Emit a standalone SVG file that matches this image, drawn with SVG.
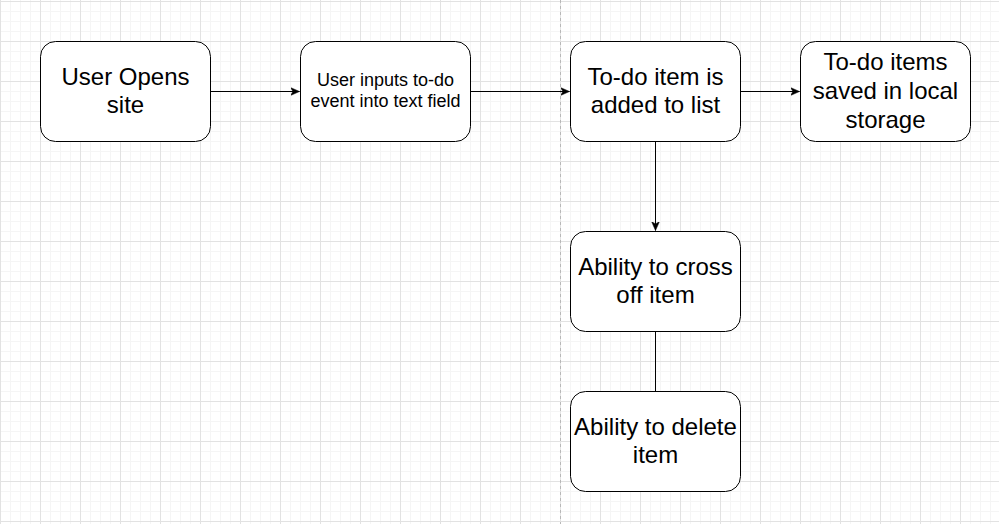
<svg xmlns="http://www.w3.org/2000/svg" width="999" height="524" viewBox="0 0 999 524">
<defs>
<style>
.node rect{fill:#ffffff;stroke:#000000;stroke-width:1}
.lbl{font-family:"Liberation Sans",Arial,Helvetica,sans-serif;font-size:24px;fill:#000000;text-anchor:middle}
.sm{font-size:18px}
.edge{stroke:#000000;stroke-width:1;fill:none}
</style>
<pattern id="grid" x="0" y="1" width="40" height="40" patternUnits="userSpaceOnUse">
<path d="M10.5 0V40M20.5 0V40M30.5 0V40M0 10.5H40M0 20.5H40M0 30.5H40" stroke="#f5f5f5" stroke-width="1" fill="none"/>
<path d="M0.5 0V40M0 0.5H40" stroke="#e2e2e2" stroke-width="1" fill="none"/>
</pattern>
<marker id="arr" markerWidth="10" markerHeight="10" refX="9" refY="5" orient="auto" markerUnits="userSpaceOnUse">
<path d="M0 1L9 5L0 9L2.4 5Z" fill="#000000" stroke="#000000" stroke-width="0.5"/>
</marker>
</defs>
<rect x="0" y="0" width="999" height="524" fill="#ffffff"/>
<rect x="0" y="0" width="999" height="524" fill="url(#grid)"/>
<line x1="560.5" y1="0" x2="560.5" y2="524" stroke="#b8b8b8" stroke-width="1" stroke-dasharray="3 3"/>
<g id="connectors">
<path class="edge" d="M210.5 91.5H299.5" marker-end="url(#arr)"/>
<path class="edge" d="M470.5 91.5H569.5" marker-end="url(#arr)"/>
<path class="edge" d="M740.5 91.5H799.5" marker-end="url(#arr)"/>
<path class="edge" d="M655.5 141.5V230.5" marker-end="url(#arr)"/>
<path class="edge" d="M655.5 331.5V391.5"/>
</g>
<g id="node-user-opens" class="node">
<rect x="40.5" y="41.5" width="170" height="100" rx="15" ry="15"/>
<text class="lbl" x="125.5" y="84.5">User Opens</text>
<text class="lbl" x="125.5" y="113">site</text>
</g>
<g id="node-user-inputs" class="node">
<rect x="300.5" y="41.5" width="170" height="100" rx="15" ry="15"/>
<text class="lbl sm" x="385.5" y="85.5">User inputs to-do</text>
<text class="lbl sm" x="385.5" y="107">event into text field</text>
</g>
<g id="node-added" class="node">
<rect x="570.5" y="41.5" width="170" height="100" rx="15" ry="15"/>
<text class="lbl" x="655.5" y="84.5">To-do item is</text>
<text class="lbl" x="655.5" y="113">added to list</text>
</g>
<g id="node-saved" class="node">
<rect x="800.5" y="41.5" width="170" height="100" rx="15" ry="15"/>
<text class="lbl" x="885.5" y="70">To-do items</text>
<text class="lbl" x="885.5" y="99">saved in local</text>
<text class="lbl" x="885.5" y="128">storage</text>
</g>
<g id="node-cross-off" class="node">
<rect x="570.5" y="231.5" width="170" height="100" rx="15" ry="15"/>
<text class="lbl" x="655.5" y="274.5">Ability to cross</text>
<text class="lbl" x="655.5" y="303">off item</text>
</g>
<g id="node-delete" class="node">
<rect x="570.5" y="391.5" width="170" height="100" rx="15" ry="15"/>
<text class="lbl" x="655.5" y="434.5">Ability to delete</text>
<text class="lbl" x="655.5" y="463">item</text>
</g>
</svg>
